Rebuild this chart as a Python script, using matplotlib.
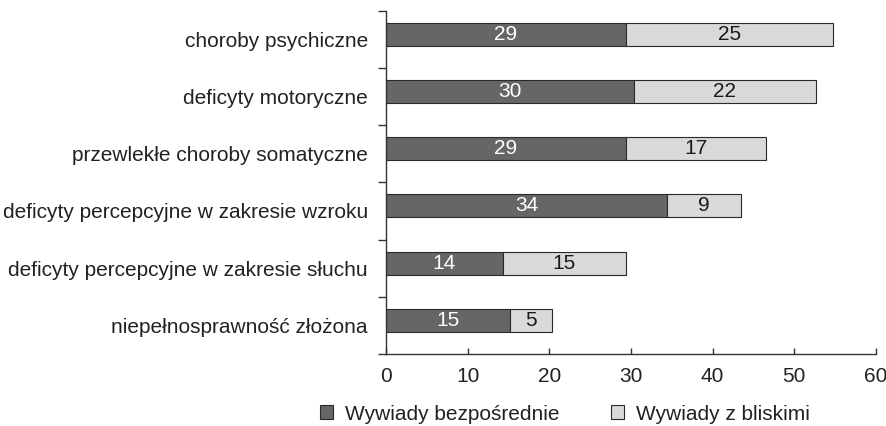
import matplotlib
matplotlib.use("Agg")
import matplotlib.pyplot as plt
from matplotlib.patches import Patch
import numpy as np

plt.rcParams['font.family'] = ['Liberation Sans', 'DejaVu Sans']

categories = [
    "choroby psychiczne",
    "deficyty motoryczne",
    "przewlekłe choroby somatyczne",
    "deficyty percepcyjne w zakresie wzroku",
    "deficyty percepcyjne w zakresie słuchu",
    "niepełnosprawność złożona",
]
direct = [29.4, 30.4, 29.4, 34.4, 14.3, 15.2]
relatives = [25.3, 22.2, 17.1, 9.1, 15.1, 5.1]
direct_labels = ["29", "30", "29", "34", "14", "15"]
relatives_labels = ["25", "22", "17", "9", "15", "5"]
series_names = ["Wywiady bezpośrednie", "Wywiady z bliskimi"]
xticks = [0, 10, 20, 30, 40, 50, 60]

dark = "#666666"
light = "#d9d9d9"
txt = "#222222"
fs = 15

fig = plt.figure(figsize=(8.87, 4.26), dpi=100)
ax = fig.add_axes([386/887, 1-354/426, (876-386)/887, (354-10.7)/426])

n = len(categories)
pos = np.arange(n)
bar_pos = pos - 0.088
h = 0.40

ax.barh(bar_pos, direct, height=h, color=dark, edgecolor="#2a2a2a", linewidth=0.8)
ax.barh(bar_pos, relatives, left=direct, height=h, color=light, edgecolor="#2a2a2a", linewidth=0.8)

for i in range(n):
    ax.text(direct[i]/2, bar_pos[i], direct_labels[i], ha="center", va="center",
            color="white", fontsize=fs)
    ax.text(direct[i] + relatives[i]/2, bar_pos[i], relatives_labels[i], ha="center",
            va="center", color="#1a1a1a", fontsize=fs)

ax.set_xlim(0, 60)
ax.set_ylim(n - 0.5, -0.5)
ax.set_xticks(xticks)
ax.set_xticklabels([str(v) for v in xticks])
ax.set_yticks(np.arange(n + 1) - 0.5)
ax.set_yticklabels([])
ax.set_yticks(pos, minor=True)
ax.set_yticklabels(categories, minor=True)
ax.tick_params(axis="y", which="major", direction="out", length=6, width=1, color="#333333")
ax.tick_params(axis="y", which="minor", length=0, pad=13, labelsize=fs, labelcolor=txt)
ax.tick_params(axis="x", direction="in", length=4, width=1, color="#333333",
               labelsize=fs, labelcolor=txt, pad=9)

for s in ["top", "right"]:
    ax.spines[s].set_visible(False)
for s in ["left", "bottom"]:
    ax.spines[s].set_color("#333333")
    ax.spines[s].set_linewidth(1.0)

handles = [Patch(facecolor=dark, edgecolor="#2a2a2a", linewidth=0.8),
           Patch(facecolor=light, edgecolor="#2a2a2a", linewidth=0.8)]
fig.legend(handles, series_names, loc="center", bbox_to_anchor=(565/887, 1-414/426),
           ncol=2, frameon=False, fontsize=fs, handlelength=0.625, handleheight=0.625,
           handletextpad=0.58, columnspacing=2.5, labelcolor=txt)

fig.savefig("out.png", dpi=100)
